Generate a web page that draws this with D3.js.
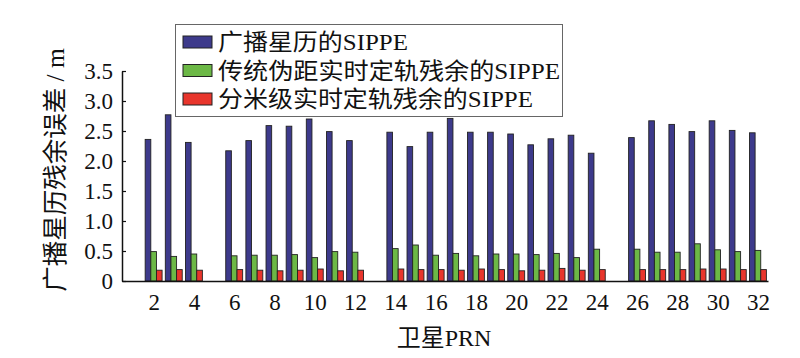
<!DOCTYPE html>
<html>
<head>
<meta charset="utf-8">
<script src="https://cdn.jsdelivr.net/npm/d3@7"></script>
<style>
  html, body { margin: 0; padding: 0; background: #fff; }
  svg { display: block; }
  text { font-family: "Liberation Serif", "Noto Sans CJK SC", serif; fill: #111; }
</style>
</head>
<body>
<svg id="chart" width="800" height="358"></svg>
<script>
// ---- data ----
const prn = [2,3,4,6,7,8,9,10,11,12,14,15,16,17,18,19,20,21,22,23,24,26,27,28,29,30,31,32];
const broadcast = [2.36,2.77,2.31,2.17,2.34,2.59,2.58,2.70,2.49,2.34,2.48,2.24,2.48,2.71,2.48,2.48,2.45,2.27,2.37,2.43,2.13,2.39,2.67,2.61,2.49,2.67,2.51,2.47];
const pseudo = [0.49,0.41,0.45,0.42,0.43,0.43,0.44,0.39,0.49,0.48,0.54,0.60,0.43,0.46,0.42,0.45,0.45,0.44,0.46,0.39,0.53,0.53,0.48,0.48,0.62,0.52,0.49,0.51];
const decimeter = [0.18,0.19,0.18,0.19,0.18,0.17,0.18,0.20,0.17,0.18,0.20,0.19,0.19,0.18,0.20,0.19,0.17,0.18,0.21,0.18,0.19,0.19,0.19,0.19,0.20,0.20,0.19,0.19];
const xTicks = [2,4,6,8,10,12,14,16,18,20,22,24,26,28,30,32];
const yTicks = [0,0.5,1.0,1.5,2.0,2.5,3.0,3.5];
const seriesNames = ["广播星历的SIPPE","传统伪距实时定轨残余的SIPPE","分米级实时定轨残余的SIPPE"];
const colors = ["#3d3a8b","#6cb846","#e8352c"];
const xTitle = "卫星PRN";
const yTitle = "广播星历残余误差 / m";

const svg = d3.select("#chart");
const x = d3.scaleLinear().domain([0.43, 32.5]).range([122, 768]);
const y = d3.scaleLinear().domain([0, 3.5]).range([281, 71]);
const bw = 0.28; // bar width in PRN units

const series = [broadcast, pseudo, decimeter];
const offsets = [-bw, 0, bw];

series.forEach((vals, si) => {
  svg.append("g").selectAll("rect")
    .data(prn.map((p, i) => ({p, v: vals[i]})))
    .join("rect")
    .attr("x", d => x(d.p + offsets[si] - bw / 2))
    .attr("width", d => x(d.p + bw / 2) - x(d.p - bw / 2))
    .attr("y", d => y(d.v))
    .attr("height", d => y(0) - y(d.v))
    .attr("fill", colors[si])
    .attr("stroke", "#222")
    .attr("stroke-width", 0.9);
});

// axes
const yAxis = d3.axisLeft(y).tickValues(yTicks)
  .tickFormat(d => d === 0 ? "0" : d3.format(".1f")(d))
  .tickSizeInner(-4).tickSizeOuter(0).tickPadding(9);
const gy = svg.append("g").attr("transform", `translate(${x.range()[0]},0)`).call(yAxis);
gy.select(".domain").attr("stroke", "#111").attr("stroke-width", 1.5);
gy.selectAll(".tick line").attr("stroke", "#111").attr("stroke-width", 1.2);
gy.selectAll(".tick text").attr("font-size", 23).attr("font-family", "Liberation Serif").attr("fill", "#111");

const xAxis = d3.axisBottom(x).tickValues(xTicks).tickSize(0).tickSizeOuter(0).tickPadding(13);
const gx = svg.append("g").attr("transform", `translate(0,${y(0)})`).call(xAxis);
gx.select(".domain").attr("stroke", "#111").attr("stroke-width", 1.5);
gx.selectAll(".tick text").attr("font-size", 23).attr("font-family", "Liberation Serif").attr("fill", "#111");

// axis titles
svg.append("text").attr("x", 444).attr("y", 346).attr("text-anchor", "middle")
  .attr("font-size", 24).text(xTitle);
svg.append("text").attr("transform", "translate(55,170) rotate(-90)")
  .attr("text-anchor", "middle").attr("dominant-baseline", "central")
  .attr("font-size", 25.5).text(yTitle);

// legend
const lg = svg.append("g");
lg.append("rect").attr("x", 175.5).attr("y", 24.5).attr("width", 387).attr("height", 92)
  .attr("fill", "#fff").attr("stroke", "#666").attr("stroke-width", 1);
const rowsY = [42, 70.5, 99];
const textLens = [190, 342, 315];
seriesNames.forEach((name, i) => {
  lg.append("rect").attr("x", 183).attr("y", rowsY[i] - 6).attr("width", 29).attr("height", 12)
    .attr("fill", colors[i]).attr("stroke", "#222").attr("stroke-width", 1);
  lg.append("text").attr("x", 218).attr("y", rowsY[i] + 8).attr("font-size", 23)
    .attr("textLength", textLens[i]).attr("lengthAdjust", "spacingAndGlyphs").text(name);
});
</script>
</body>
</html>
